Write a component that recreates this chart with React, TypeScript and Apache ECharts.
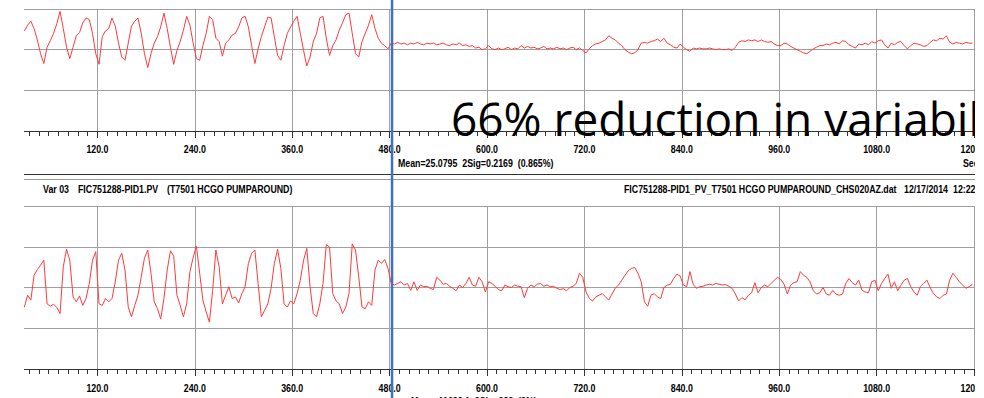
import React, { useEffect, useRef } from "react";
import * as echarts from "echarts";

// Sampling of both traces (seconds)
const sampleStart = 30;
const sampleStep = 4;

// Upper trace (value units, mean after tuning ~25.08)
const topValues = [
  25.23, 25.30, 25.35, 25.26, 25.12, 24.95, 24.83, 25.03, 25.11, 25.20,
  25.32, 25.47, 25.26, 25.03, 24.89, 25.03, 25.17, 25.21, 25.33, 25.39,
  25.37, 25.20, 24.95, 24.82, 25.16, 25.23, 25.26, 25.39, 25.29, 25.08,
  24.91, 24.87, 25.08, 25.29, 25.35, 25.39, 25.20, 24.95, 24.78, 24.95,
  25.08, 25.16, 25.28, 25.45, 25.26, 25.03, 24.82, 24.99, 25.10, 25.24,
  25.41, 25.30, 25.08, 24.89, 24.87, 25.05, 25.20, 25.41, 25.37, 25.14,
  25.10, 24.92, 25.08, 25.12, 25.18, 25.20, 25.28, 25.39, 25.41, 25.28,
  25.05, 24.83, 25.01, 25.16, 25.28, 25.40, 25.39, 25.16, 24.93, 24.87,
  25.05, 25.20, 25.28, 25.35, 25.41, 25.20, 24.99, 24.80, 24.91, 25.10,
  25.20, 25.39, 25.41, 25.14, 24.93, 25.05, 25.12, 25.24, 25.33, 25.43,
  25.45, 25.20, 24.95, 24.91, 25.10, 25.20, 25.30, 25.43, 25.26, 25.14,
  25.08, 25.05, 25.01, 25.08, 25.07, 25.09, 25.07, 25.08, 25.06, 25.08,
  25.07, 25.09, 25.07, 25.06, 25.08, 25.07, 25.08, 25.06, 25.07, 25.08,
  25.06, 25.05, 25.07, 25.06, 25.08, 25.05, 25.06, 25.04, 25.05, 25.02,
  25.03, 25.00, 25.01, 25.05, 25.01, 25.00, 25.02, 25.00, 25.01, 25.03,
  25.00, 25.02, 25.01, 25.05, 25.02, 25.04, 25.02, 25.03, 25.01, 25.02,
  25.04, 25.01, 25.02, 25.01, 25.03, 25.01, 25.02, 25.00, 25.02, 25.03,
  25.00, 25.02, 24.99, 24.96, 25.01, 25.05, 25.07, 25.08, 25.10, 25.12,
  25.17, 25.14, 25.12, 25.08, 25.05, 25.00, 24.97, 24.95, 24.96, 25.00,
  25.08, 25.09, 25.08, 25.10, 25.11, 25.13, 25.10, 25.14, 25.08, 25.06,
  25.03, 25.02, 25.07, 25.03, 25.00, 24.98, 25.02, 25.01, 25.02, 25.01,
  25.01, 25.02, 25.01, 25.00, 25.01, 25.00, 25.00, 25.01, 24.99, 25.03,
  25.09, 25.11, 25.10, 25.12, 25.11, 25.12, 25.10, 25.12, 25.10, 25.09,
  25.10, 25.07, 25.05, 25.05, 25.08, 25.07, 25.04, 25.02, 25.00, 24.98,
  24.96, 24.95, 24.98, 25.01, 25.03, 25.05, 25.05, 25.07, 25.06, 25.08,
  25.09, 25.07, 25.11, 25.10, 25.06, 25.04, 25.02, 25.07, 25.06, 25.08,
  25.06, 25.10, 25.08, 25.11, 25.12, 25.06, 25.02, 25.08, 25.06, 25.09,
  25.10, 25.05, 25.01, 25.05, 25.08, 25.07, 25.06, 25.04, 25.05, 25.09,
  25.12, 25.11, 25.14, 25.13, 25.17, 25.09, 25.07, 25.09, 25.08, 25.07,
  25.09, 25.08, 25.08,
];

// Lower trace: FIC751288-PID1.PV
const bottomValues = [
  10520, 10810, 10690, 11300, 11440, 11550, 11670, 10600, 10540, 10590,
  10510, 10360, 11510, 11940, 11670, 10770, 10650, 10790, 10560, 10730,
  11100, 11670, 11880, 10600, 10560, 10730, 10650, 10730, 11140, 11670,
  11840, 11430, 10520, 10280, 10560, 10810, 11260, 11720, 11920, 11350,
  10650, 10480, 10230, 10730, 11430, 11900, 11770, 10810, 10560, 10280,
  10600, 11390, 11740, 12020, 11350, 10690, 10400, 10150, 10930, 11920,
  11510, 10600, 10810, 11020, 10730, 10770, 10620, 10850, 11020, 11590,
  11840, 11920, 11100, 10280, 10440, 10600, 10980, 11590, 11940, 11470,
  10600, 10520, 10670, 10600, 10850, 11180, 11670, 11960, 11020, 10360,
  10280, 10600, 11100, 12050, 11990, 10850, 10670, 10600, 10360, 10520,
  10850, 12070, 11920, 11260, 10520, 10480, 10650, 10560, 11430, 11670,
  11590, 11690, 11470, 11100, 11060, 11100, 11140, 11060, 11100, 10930,
  11140, 10930, 11060, 11020, 11030, 10980, 10950, 11250, 11180, 11080,
  11100, 11030, 10980, 10920, 11060, 11000, 11100, 11250, 11060, 11030,
  11250, 11140, 10890, 11140, 11100, 11030, 10950, 10920, 11060, 11020,
  11000, 11060, 11030, 11020, 10750, 10980, 11060, 11020, 11080, 11100,
  11030, 11060, 11020, 11030, 10980, 10950, 10970, 10920, 11000, 11030,
  11100, 11350, 11250, 10890, 10730, 10670, 10770, 10810, 10850, 10770,
  10690, 10840, 10980, 11060, 11180, 11300, 11410, 11470, 11490, 11350,
  11140, 10650, 10540, 10810, 10850, 10770, 10730, 11000, 11060, 11080,
  11220, 11330, 11280, 11060, 11020, 11390, 11080, 10980, 11020, 11030,
  11060, 11080, 11060, 11100, 11080, 11060, 11070, 11030, 10980, 10840,
  10670, 10750, 10700, 10810, 10870, 11120, 10870, 11000, 11060, 11020,
  11100, 11180, 11250, 11200, 11080, 10840, 11060, 11120, 11140, 11390,
  11300, 11250, 11140, 10920, 10840, 10870, 11000, 10840, 10810, 10930,
  10840, 10810, 10840, 11100, 11220, 11120, 11060, 11180, 10930, 10890,
  10870, 11140, 11180, 10920, 11100, 11220, 11330, 10980, 11140, 10920,
  11060, 11180, 11220, 11020, 10890, 10810, 11020, 11100, 11180, 11000,
  10850, 10770, 10730, 10810, 10840, 11180, 11350, 11250, 11140, 11060,
  10980, 11020, 11080,
];

// Axis definitions
const xMin = 0;
const xMax = 1200;
const xInterval = 120;
const xTickLabels = [120, 240, 360, 480, 600, 720, 840, 960, 1080, 1200];
const topAxis = { min: 24.0, max: 25.5, interval: 0.5 };
const bottomAxis = { min: 9000, max: 13000, interval: 1000 };
const changeTime = 483;

const topMeanText = "Mean=25.0795  2Sig=0.2169  (0.865%)";
const bottomMeanText = "Mean=11038.1  2Sig=283  (3%)";
const headerLeft = ["Var 03", "FIC751288-PID1.PV", "(T7501 HCGO PUMPAROUND)"];
const headerRight = ["FIC751288-PID1_PV_T7501 HCGO PUMPAROUND_CHS020AZ.dat", "12/17/2014", "12:22"];
const unitText = "Sec";
const bigText = "66% reduction in variability";

const NARROW = '"Liberation Sans", Arial, sans-serif';
const SQUEEZE = 0.8;

function toPairs(vals: number[]) {
  return vals.map((v, i) => [sampleStart + i * sampleStep, v]);
}

function xAxisDef(gridIndex: number) {
  return {
    type: "value",
    gridIndex,
    min: xMin,
    max: xMax,
    interval: xInterval,
    axisLine: { show: true, lineStyle: { color: "#333", width: 1 } },
    axisTick: { show: true, length: 7, inside: false, lineStyle: { color: "#333" } },
    minorTick: { show: true, splitNumber: 10, length: 5, lineStyle: { color: "#333" } },
    splitLine: { show: true, lineStyle: { color: "#a0a0a0", width: 1 } },
    axisLabel: { show: false },
  };
}

function yAxisDef(gridIndex: number, ax: { min: number; max: number; interval: number }) {
  return {
    type: "value",
    gridIndex,
    min: ax.min,
    max: ax.max,
    interval: ax.interval,
    axisLine: { show: false },
    axisTick: { show: false },
    axisLabel: { show: false },
    splitLine: { show: true, lineStyle: { color: "#a0a0a0", width: 1 } },
  };
}

function label(text: string, x: number, y: number, align = "left") {
  return {
    type: "text",
    x,
    y,
    z: 60,
    scaleX: SQUEEZE,
    style: {
      text,
      fill: "#000",
      fontFamily: NARROW,
      fontWeight: "bold",
      fontSize: 11,
      align,
      verticalAlign: "middle",
    },
  };
}

export default function App() {
  const ref = useRef<HTMLDivElement>(null);
  useEffect(() => {
    if (!ref.current) return;
    const chart = echarts.init(ref.current, undefined, { renderer: "svg" });
    chart.setOption({
      animation: false,
      backgroundColor: "#fff",
      grid: [
        { left: 0, right: 1, top: 9, height: 122, outerBoundsMode: "none", containLabel: false },
        { left: 0, right: 1, top: 206, height: 163, outerBoundsMode: "none", containLabel: false },
      ],
      xAxis: [xAxisDef(0), xAxisDef(1)],
      yAxis: [yAxisDef(0, topAxis), yAxisDef(1, bottomAxis)],
      series: [
        {
          type: "line",
          xAxisIndex: 0,
          yAxisIndex: 0,
          data: toPairs(topValues),
          showSymbol: false,
          lineStyle: { color: "#ff3a3a", width: 1 },
          z: 3,
        },
        {
          type: "line",
          xAxisIndex: 1,
          yAxisIndex: 1,
          data: toPairs(bottomValues),
          showSymbol: false,
          lineStyle: { color: "#ff3a3a", width: 1 },
          z: 3,
        },
      ],
    });
    const bx = chart.convertToPixel({ xAxisIndex: 0 }, changeTime) as number;
    const topAxisY = chart.convertToPixel({ yAxisIndex: 0 }, topAxis.min) as number;
    const botAxisY = chart.convertToPixel({ yAxisIndex: 1 }, bottomAxis.min) as number;
    const tickTexts: any[] = [];
    xTickLabels.forEach((v) => {
      const px = chart.convertToPixel({ xAxisIndex: 0 }, v) as number;
      tickTexts.push(label(v.toFixed(1), px, topAxisY + 18, "center"));
      tickTexts.push(label(v.toFixed(1), px, botAxisY + 19, "center"));
    });
    chart.setOption({
      graphic: [
        { type: "rect", x: 0, y: 0, z: 40, shape: { width: 24, height: 398 }, style: { fill: "#fff" } },
        { type: "line", z: 45, shape: { x1: 24, y1: 174.5, x2: 975, y2: 174.5 }, style: { stroke: "#333", lineWidth: 1 } },
        { type: "line", z: 45, shape: { x1: 24, y1: 179.5, x2: 975, y2: 179.5 }, style: { stroke: "#9a9a9a", lineWidth: 1 } },
        ...tickTexts,
        label(topMeanText, 398, 163),
        label(unitText, 963, 163),
        label(headerLeft[0], 43, 189),
        label(headerLeft[1], 78, 189),
        label(headerLeft[2], 167, 189),
        label(headerRight[0], 624, 189),
        label(headerRight[1], 904, 189),
        label(headerRight[2], 953, 189),
        label(bottomMeanText, 411, 401),
        {
          type: "text",
          x: 451,
          y: 118,
          z: 70,
          style: {
            text: bigText,
            fill: "#000",
            fontFamily: '"Open Sans", "Noto Sans", sans-serif',
            fontSize: 46,
            align: "left",
            verticalAlign: "middle",
          },
        },
        { type: "line", z: 80, shape: { x1: bx, y1: 0, x2: bx, y2: 398 }, style: { stroke: "#3f72b8", lineWidth: 2.5 } },
      ],
    });
    return () => chart.dispose();
  }, []);
  return (
    <div
      ref={ref}
      style={{ position: "fixed", left: 0, top: 0, width: 975, height: 398, overflow: "hidden" }}
    />
  );
}
